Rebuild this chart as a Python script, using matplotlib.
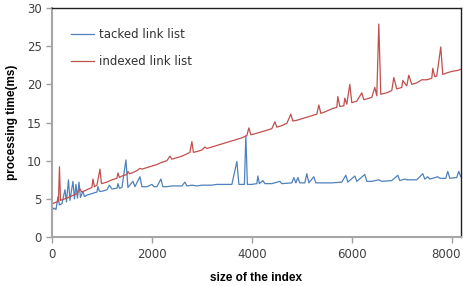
"""
Processing time of tacked vs indexed link list against index size
"""

import matplotlib
matplotlib.use('Agg')
import matplotlib.pyplot as plt
import matplotlib.transforms as mtransforms

# tacked link list (blue)
tacked_x = [0, 40, 80, 120, 150, 200, 260, 290, 330, 360, 420, 450, 480, 510, 540,
            570, 620, 650, 700, 800, 900, 920, 950, 1000, 1100, 1150, 1200, 1300,
            1320, 1350, 1400, 1480, 1520, 1620, 1660, 1760, 1800, 1900, 2000, 2040,
            2100, 2180, 2220, 2300, 2400, 2500, 2600, 2660, 2700, 2800, 2900, 3000,
            3100, 3200, 3300, 3400, 3500, 3600, 3700, 3740, 3850, 3880, 3910, 4000,
            4100, 4120, 4150, 4220, 4260, 4400, 4560, 4600, 4800, 4840, 4880, 4920,
            4960, 5060, 5100, 5140, 5240, 5280, 5400, 5600, 5800, 5880, 5920, 6060,
            6100, 6260, 6300, 6400, 6540, 6600, 6800, 6920, 6960, 7060, 7100, 7300,
            7420, 7460, 7520, 7560, 7720, 7760, 7880, 7920, 7960, 8100, 8140, 8180]
tacked_y = [3.5, 3.8, 3.6, 5.3, 4.2, 4.4, 6.2, 4.6, 7.5, 4.8, 7.3, 5.0, 6.9, 5.1, 7.2,
            5.2, 6.0, 5.3, 5.5, 5.7, 5.9, 6.6, 6.0, 6.0, 6.2, 6.8, 6.3, 6.4,
            7.0, 6.4, 6.5, 10.1, 6.5, 7.3, 6.6, 7.9, 6.6, 6.6, 6.9, 6.6,
            6.6, 7.6, 6.6, 6.6, 6.7, 6.7, 6.7, 7.2, 6.7, 6.8, 6.7, 6.8,
            6.8, 6.8, 6.9, 6.9, 6.9, 6.9, 9.9, 6.9, 6.9, 13.3, 6.9, 6.9,
            7.0, 8.0, 7.0, 7.4, 7.0, 7.0, 7.3, 7.0, 7.1, 7.8, 7.1, 7.8,
            7.1, 7.1, 8.3, 7.1, 7.9, 7.1, 7.1, 7.1, 7.2, 8.1, 7.2, 8.0,
            7.3, 8.2, 7.3, 7.3, 7.5, 7.3, 7.4, 8.1, 7.4, 7.6, 7.5, 7.5,
            8.3, 7.6, 7.9, 7.6, 7.9, 7.7, 7.7, 8.6, 7.7, 7.8, 8.6, 7.9]

# indexed link list (red)
indexed_x = [0, 50, 100, 130, 150, 170, 200, 300, 400, 500, 560, 600, 700, 800, 820,
             850, 900, 960, 990, 1100, 1200, 1300, 1320, 1350, 1400, 1500, 1520, 1550,
             1600, 1700, 1760, 1800, 1900, 2000, 2100, 2200, 2300, 2360, 2400, 2500,
             2600, 2700, 2760, 2800, 2830, 2900, 3000, 3060, 3100, 3200, 3300, 3400,
             3500, 3600, 3700, 3800, 3900, 3940, 3980, 4100, 4200, 4300, 4400, 4460,
             4500, 4600, 4700, 4780, 4820, 4900, 5000, 5100, 5200, 5300, 5340, 5380,
             5500, 5600, 5700, 5720, 5760, 5840, 5860, 5900, 5960, 6000, 6100, 6200,
             6240, 6300, 6400, 6460, 6500, 6540, 6580, 6700, 6800, 6840, 6900, 7000,
             7020, 7100, 7140, 7200, 7300, 7400, 7500, 7600, 7620, 7660, 7700, 7780,
             7820, 7900, 8000, 8100, 8200]
indexed_y = [4.3, 4.5, 4.6, 4.7, 9.2, 4.8, 4.9, 5.1, 5.4, 5.7, 6.3, 5.9, 6.2, 6.5, 7.6,
             6.6, 6.8, 8.9, 7.0, 7.2, 7.5, 7.7, 8.4, 7.8, 8.0, 8.2, 8.6, 8.3,
             8.4, 8.7, 9.0, 8.9, 9.1, 9.3, 9.5, 9.8, 10.0, 10.6, 10.2, 10.4,
             10.6, 10.9, 11.1, 12.5, 11.1, 11.2, 11.4, 11.8, 11.6, 11.8, 12.0, 12.2,
             12.4, 12.6, 12.8, 13.0, 13.3, 14.3, 13.4, 13.6, 13.8, 14.0, 14.2, 15.1,
             14.4, 14.6, 14.9, 16.1, 15.2, 15.3, 15.5, 15.7, 15.9, 16.1, 17.3, 16.2,
             16.5, 16.8, 17.0, 18.4, 17.1, 17.2, 18.2, 17.4, 20.0, 17.6, 17.8, 18.9,
             18.0, 18.1, 18.3, 19.6, 18.5, 27.9, 18.7, 18.9, 19.2, 20.9, 19.4, 19.6,
             20.5, 19.8, 21.2, 20.0, 20.2, 20.6, 20.6, 20.8, 22.1, 21.0, 21.1, 24.9,
             21.3, 21.5, 21.7, 21.8, 22.0]

x_ticks = [0, 2000, 4000, 6000, 8000]
y_ticks = [0, 5, 10, 15, 20, 25, 30]

fig = plt.figure(figsize=(4.64, 2.86), dpi=100)
ax = fig.add_axes([0.112, 0.171, 0.881, 0.801])

ax.plot(tacked_x, tacked_y, color='#4F81BD', linewidth=0.9, label='tacked link list')
ax.plot(indexed_x, indexed_y, color='#C0504D', linewidth=0.9, label='indexed link list')

ax.set_xlim(0, 8180)
ax.set_ylim(0, 30)
ax.set_xticks(x_ticks)
ax.set_yticks(y_ticks)
ax.tick_params(labelsize=8.5, labelcolor='#404040', length=4, width=1,
               direction='out', color='#A0A0A0')

# last x label sits against the right edge, nudge it in a little
last = ax.get_xticklabels()[-1]
last.set_transform(last.get_transform() +
                   mtransforms.ScaledTranslation(-4 / 72, 0, fig.dpi_scale_trans))

for side in ['left', 'bottom']:
    ax.spines[side].set_color('#A6A6A6')
    ax.spines[side].set_linewidth(1.5)
for side in ['top', 'right']:
    ax.spines[side].set_color('#202020')
    ax.spines[side].set_linewidth(1.0)

ax.set_xlabel('size of the index', fontsize=8.5, fontweight='bold',
              family='Liberation Sans', labelpad=8)
ax.set_ylabel('processing time(ms)', fontsize=8.5, fontweight='bold',
              family='Liberation Sans', labelpad=6)

ax.legend(loc='upper left', frameon=False, fontsize=8.5, handlelength=2.0,
          handletextpad=0.4, labelspacing=1.2, bbox_to_anchor=(0.02, 0.96),
          labelcolor='#303030')

plt.savefig('out.png', dpi=100)
plt.close()
